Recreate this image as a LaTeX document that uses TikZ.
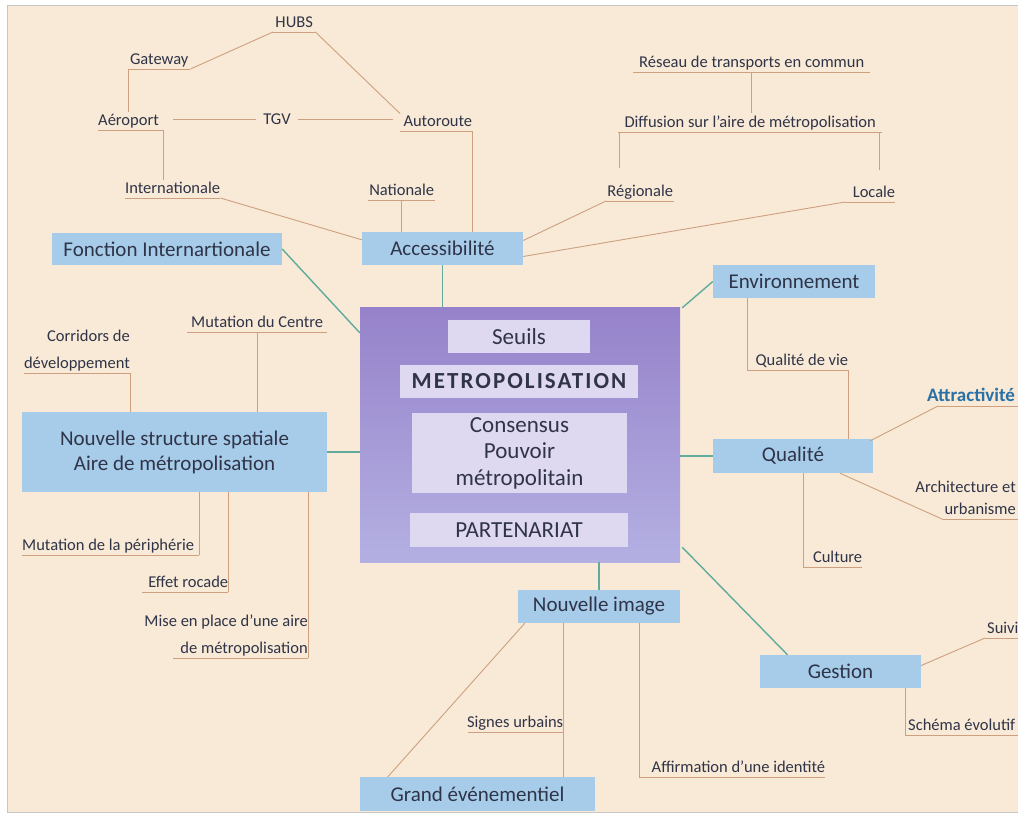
\documentclass[tikz,border=0pt]{standalone}
\usepackage{fontspec}
\setmainfont{Carlito}
\usetikzlibrary{calc}
\definecolor{bg}{RGB}{248,234,214}
\definecolor{boxblue}{RGB}{166,204,234}
\definecolor{lav}{RGB}{222,216,240}
\definecolor{purpleA}{RGB}{150,130,202}
\definecolor{purpleB}{RGB}{180,176,226}
\definecolor{tealline}{RGB}{96,170,158}
\definecolor{tanline}{RGB}{206,160,128}
\definecolor{txt}{RGB}{48,52,72}
\definecolor{attrblue}{RGB}{40,112,165}
\newcommand\boxfont{\fontsize{21}{25}\selectfont}
\newcommand\leaffont{\fontsize{16.5}{27}\selectfont}
\newcommand\ctrfont{\fontsize{23}{26.5}\selectfont}
\begin{document}
\begin{tikzpicture}[x=1pt,y=-1pt,
  box/.style={fill=boxblue, inner sep=0pt, font=\boxfont, text=txt, align=center},
  inbox/.style={fill=lav, inner sep=0pt, font=\ctrfont, text=txt, align=center},
  leaf/.style={anchor=south west, inner xsep=0pt, inner ysep=2pt, font=\leaffont, text=txt},
  one/.style={text depth=0.25em},
  uline/.style={draw=tanline, line width=0.9pt},
  tanlink/.style={draw=tanline, line width=0.9pt},
  teallink/.style={draw=tealline, line width=1.4pt},
]
\useasboundingbox (0,0) rectangle (1018,823);
\clip (0,0) rectangle (1018,823);
\fill[white] (0,0) rectangle (1018,823);
\fill[bg] (7,5) rectangle (1018,812);
\draw[gray!45, line width=0.8pt] (1018,5) -- (7,5) -- (7,812) -- (1018,812);
\coordinate (E) at (1018,0);

% ---- top-left cluster
\node[leaf,one] (hubs) at (273,32) {\makebox[42pt][c]{HUBS}};
\node[leaf,one] (gate) at (128,69) {\makebox[62pt][c]{Gateway}};
\node[leaf,one] (aero) at (98,130) {\makebox[65pt][l]{Aéroport}};
\node[font=\leaffont,text=txt,inner xsep=7pt,inner ysep=0pt] (tgv) at (277,119) {TGV};
\node[leaf,one] (auto) at (400,131) {\makebox[72pt][r]{Autoroute}};
\node[leaf,one] (intl) at (125,198) {\makebox[95pt][l]{Internationale}};
\node[leaf,one] (nat) at (368,200) {\makebox[67pt][c]{Nationale}};
\node[box, minimum width=161pt, minimum height=33pt] (acc) at (442.5,248.5) {Accessibilité};
\node[box, minimum width=230pt, minimum height=32pt] (fonc) at (167,249) {Fonction Internartionale};

% ---- top-right cluster
\node[leaf,one] (res) at (633,72) {\makebox[237pt][c]{Réseau de transports en commun}};
\node[leaf,one] (diff) at (618,132) {\makebox[264pt][c]{Diffusion sur l'aire de métropolisation}};
\node[leaf,one] (reg) at (606,201) {\makebox[68pt][c]{Régionale}};
\node[leaf,one] (loc) at (845,202) {\makebox[50pt][r]{Locale}};
\coordinate (regtop) at (619,168);
\coordinate (loctop) at (879,170);

% ---- left cluster
\node[leaf,anchor=south east,align=right] (corr) at (130,373) {Corridors de\\développement};
\node[leaf,one] (mutc) at (187,332) {\makebox[140pt][c]{Mutation du Centre}};
\node[box, minimum width=305pt, minimum height=80pt] (nss) at (174.5,452) {Nouvelle structure spatiale\\Aire de métropolisation};
\node[leaf,one] (mperi) at (22,555) {\makebox[177pt][l]{Mutation de la périphérie}};
\node[leaf,one] (effet) at (142,592) {\makebox[86pt][r]{Effet rocade}};
\node[leaf,anchor=south east,align=right] (mise) at (308,658) {Mise en place d'une aire\\de métropolisation\vphantom{p}};

% ---- centre
\node[minimum width=320pt, minimum height=255pt, inner sep=0pt, top color=purpleA, bottom color=purpleB] (ctr) at (520,434.5) {};
\node[inbox, minimum width=142pt, minimum height=33pt] (seuils) at (519,336.5) {Seuils};
\node[inbox, minimum width=238pt, minimum height=33pt, font=\ctrfont\bfseries\addfontfeature{LetterSpace=9}] (metro) at (519,381.5) {METROPOLISATION};
\node[inbox, minimum width=215pt, minimum height=80pt] (cons) at (519.5,453) {Consensus\\Pouvoir\\métropolitain};
\node[inbox, minimum width=218pt, minimum height=34pt] (part) at (519,530) {PARTENARIAT};

% ---- right cluster
\node[box, minimum width=162pt, minimum height=33pt] (env) at (794,281.5) {Environnement};
\node[leaf,one] (qdv) at (747,370) {\makebox[101pt][r]{Qualité de vie}};
\node[box, minimum width=160pt, minimum height=34pt] (qual) at (793,456) {Qualité};
\node[leaf,one,font=\bfseries\fontsize{19}{22}\selectfont,text=attrblue] (attr) at (927,406) {Attractivité};
\node[leaf,anchor=south east,align=right,font=\fontsize{16.5}{22}\selectfont] (arch) at (1016,519) {Architecture et\\urbanisme\vphantom{p}};
\node[leaf,one] (cult) at (803,567) {\makebox[59pt][r]{Culture}};
\node[box, minimum width=161pt, minimum height=33pt] (gest) at (840.5,671.5) {Gestion};
\node[leaf,one] (suivi) at (987,638) {Suivi};
\node[leaf,one] (sch) at (908,735) {Schéma évolutif};
\coordinate (schL) at ($(sch.south west)+(-3,0)$);

% ---- bottom cluster
\node[box, minimum width=162pt, minimum height=33pt] (nimg) at (599,606.5) {Nouvelle image};
\node[box, minimum width=235pt, minimum height=34pt] (grand) at (477.5,794) {Grand événementiel};
\node[leaf,one] (sig) at (468,732) {\makebox[95pt][r]{Signes urbains}};
\node[leaf,one] (aff) at (639,777) {\makebox[186pt][r]{Affirmation d'une identité}};

% ---- underlines
\foreach \n in {hubs,gate,aero,auto,intl,nat,res,diff,reg,loc,corr,mutc,mperi,effet,qdv,cult,sig,aff}
  \draw[uline] (\n.south west) -- (\n.south east);
\draw[uline] ($(mise.south east)+(-135,0)$) -- (mise.south east);
\draw[uline] ($(attr.south west)+(11,0)$) -- (attr.south west -| E);
\draw[uline] ($(arch.south east)+(-74,0)$) -- (arch.south east -| E);
\draw[uline] ($(suivi.south west)+(-2,0)$) -- (suivi.south west -| E);
\draw[uline] (schL) -- (schL -| E);

% ---- tan connectors
\draw[tanlink] (gate.south east) -- (hubs.south west);
\draw[tanlink] (hubs.south east) -- (auto.north west);
\draw[tanlink] (gate.south west) -- (gate.south west |- aero.north);
\draw[tanlink] (aero.south east) -- (aero.south east |- intl.north);
\draw[tanlink] ($(tgv.west -| aero.east)+(10,0)$) -- (tgv.west);
\draw[tanlink] (tgv.east) -- ($(tgv.east -| auto.west)+(-7,0)$);
\draw[tanlink] (intl.south east) -- ($(acc.north west)+(0,8)$);
\draw[tanlink] (nat.south) -- (nat.south |- acc.north);
\draw[tanlink] (auto.south east) -- (auto.south east |- acc.north);
\draw[tanlink] (reg.south west) -- ($(acc.east)+(0,-8)$);
\draw[tanlink] (loc.south west) -- ($(acc.east)+(0,8)$);
\draw[tanlink] (res.south) -- (res.south |- diff.north);
\draw[tanlink] (regtop |- diff.south) -- (regtop);
\draw[tanlink] (loctop |- diff.south) -- (loctop);
\draw[tanlink] (corr.south east) -- (corr.south east |- nss.north);
\draw[tanlink] (mutc.south) -- (mutc.south |- nss.north);
\draw[tanlink] (mperi.south east) -- (mperi.south east |- nss.south);
\draw[tanlink] (effet.south east) -- (effet.south east |- nss.south);
\draw[tanlink] (mise.south east) -- (mise.south east |- nss.south);
\draw[tanlink] (qdv.south west) -- (qdv.south west |- env.south);
\draw[tanlink] (qdv.south east) -- (qdv.south east |- qual.north);
\draw[tanlink] ($(qual.north east)+(-3,2)$) -- ($(attr.south west)+(11,0)$);
\draw[tanlink] ($(qual.south)+(47,0)$) -- ($(arch.south east)+(-74,0)$);
\draw[tanlink] (cult.south west) -- (cult.south west |- qual.south);
\draw[tanlink] ($(gest.east)+(0,-6)$) -- ($(suivi.south west)+(-2,0)$);
\draw[tanlink] (schL) -- (schL |- gest.south);
\draw[tanlink] ($(nimg.south west)+(7,0)$) -- ($(grand.north west)+(28,0)$);
\draw[tanlink] (sig.south east |- nimg.south) -- (sig.south east |- grand.north);
\draw[tanlink] (aff.south west) -- (aff.south west |- nimg.south);

% ---- teal connectors
\draw[teallink] (fonc.east) -- ($(ctr.north west)+(0,26)$);
\draw[teallink] (acc.south) -- (acc.south |- ctr.north);
\draw[teallink] (nss.east) -- (nss.east -| ctr.west);
\draw[teallink] ($(ctr.north east)+(2,1)$) -- (env.west);
\draw[teallink] (qual.west -| ctr.east) -- (qual.west);
\draw[teallink] (nimg.north |- ctr.south) -- (nimg.north);
\draw[teallink] ($(ctr.south east)+(2,-15)$) -- ($(gest.north)+(-53,0)$);
\end{tikzpicture}
\end{document}
